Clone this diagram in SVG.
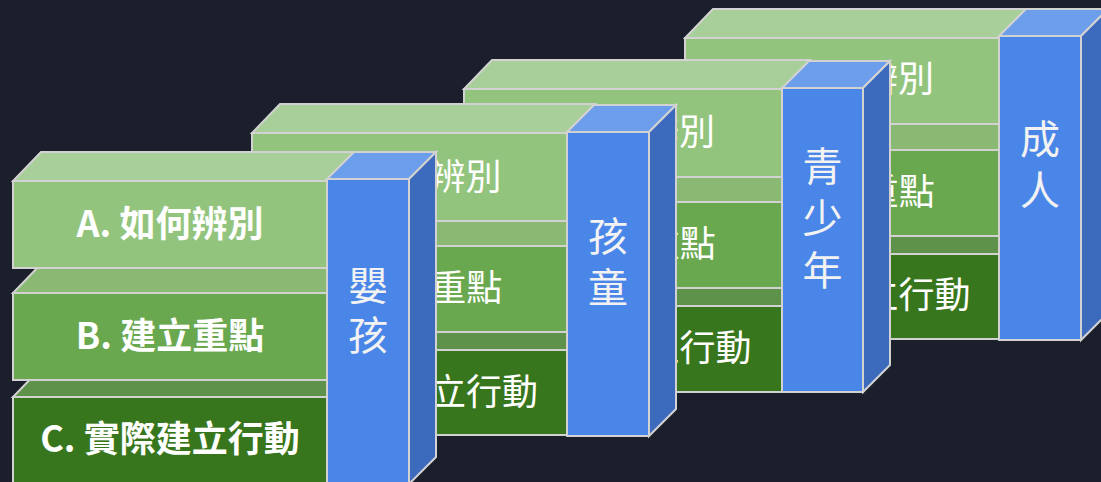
<svg xmlns="http://www.w3.org/2000/svg" width="1101" height="482" viewBox="0 0 1101 482">
  <style>
    .bg { fill: #1b1f2b; }
    .e { stroke: #d2d2d2; stroke-width: 2; stroke-linejoin: miter; }
    .at { fill: #a8cf99; }
    .af { fill: #93c47d; }
    .bt { fill: #89b973; }
    .bf { fill: #6aa84f; }
    .ct { fill: #5e914a; }
    .cf { fill: #38761d; }
    .kf { fill: #4a86e8; }
    .kt { fill: #6d9eeb; }
    .ks { fill: #3c6bbd; }
    .lb { font-family: "Noto Sans CJK TC", "Noto Sans CJK SC", "Noto Sans", sans-serif; font-size: 36px; fill: #ffffff; text-anchor: middle; }
    .lb1 { font-weight: bold; }
    .col { font-family: "Noto Sans CJK TC", "Noto Sans CJK SC", "Noto Sans", sans-serif; font-size: 40px; fill: #f2f2f2; text-anchor: middle; }
  </style>
  <rect class="bg" x="0" y="0" width="1101" height="482"/>

  <!-- Group 4: 成人 (back) -->
  <g id="adult">
    <polygon class="ct e" points="685,254 999,254 1027,225 713,225"/>
    <rect class="cf e" x="685" y="254" width="314" height="85"/>
    <polygon class="bt e" points="685,150 999,150 1027,121 713,121"/>
    <rect class="bf e" x="685" y="150" width="314" height="86"/>
    <polygon class="at e" points="685,38 999,38 1027,9 713,9"/>
    <rect class="af e" x="685" y="38" width="314" height="86"/>
    <text class="lb" x="842" y="92">A. 如何辨別</text>
    <text class="lb" x="842" y="205">B. 建立重點</text>
    <text class="lb" x="842" y="308">C. 實際建立行動</text>
    <polygon class="kt e" points="999,36 1081,36 1108,9 1026,9"/>
    <polygon class="ks e" points="1081,36 1108,9 1108,313 1081,340"/>
    <rect class="kf e" x="999" y="36" width="82" height="304"/>
    <text class="col" x="1040" y="154">成</text>
    <text class="col" x="1040" y="205">人</text>
  </g>

  <!-- Group 3: 青少年 -->
  <g id="teen">
    <polygon class="ct e" points="464,306 782,306 810,277 492,277"/>
    <rect class="cf e" x="464" y="306" width="318" height="86"/>
    <polygon class="bt e" points="464,202 782,202 810,173 492,173"/>
    <rect class="bf e" x="464" y="202" width="318" height="86"/>
    <polygon class="at e" points="464,89 782,89 810,60 492,60"/>
    <rect class="af e" x="464" y="89" width="318" height="88"/>
    <text class="lb" x="623" y="145">A. 如何辨別</text>
    <text class="lb" x="623" y="257">B. 建立重點</text>
    <text class="lb" x="623" y="361">C. 實際建立行動</text>
    <polygon class="kt e" points="782,88 863,88 890,61 809,61"/>
    <polygon class="ks e" points="863,88 890,61 890,365 863,392"/>
    <rect class="kf e" x="782" y="88" width="81" height="304"/>
    <text class="col" x="822.500" y="181">青</text>
    <text class="col" x="822.500" y="233">少</text>
    <text class="col" x="822.500" y="285">年</text>
  </g>

  <!-- Group 2: 孩童 -->
  <g id="child">
    <polygon class="ct e" points="252,350 567,350 595,321 280,321"/>
    <rect class="cf e" x="252" y="350" width="315" height="85"/>
    <polygon class="bt e" points="252,246 567,246 595,217 280,217"/>
    <rect class="bf e" x="252" y="246" width="315" height="86"/>
    <polygon class="at e" points="252,133 567,133 595,104 280,104"/>
    <rect class="af e" x="252" y="133" width="315" height="88"/>
    <text class="lb" x="409.500" y="189.500">A. 如何辨別</text>
    <text class="lb" x="409.500" y="301">B. 建立重點</text>
    <text class="lb" x="409.500" y="404.500">C. 實際建立行動</text>
    <polygon class="kt e" points="567,132 649,132 676,105 594,105"/>
    <polygon class="ks e" points="649,132 676,105 676,409 649,436"/>
    <rect class="kf e" x="567" y="132" width="82" height="304"/>
    <text class="col" x="608" y="251">孩</text>
    <text class="col" x="608" y="302">童</text>
  </g>

  <!-- Group 1: 嬰孩 (front) -->
  <g id="infant">
    <polygon class="ct e" points="13,397 327,397 355,368 41,368"/>
    <rect class="cf e" x="13" y="397" width="314" height="86"/>
    <polygon class="bt e" points="13,293 327,293 355,264 41,264"/>
    <rect class="bf e" x="13" y="293" width="314" height="87"/>
    <polygon class="at e" points="13,181 327,181 355,152 41,152"/>
    <rect class="af e" x="13" y="181" width="314" height="87"/>
    <text class="lb lb1" x="170" y="237">A. 如何辨別</text>
    <text class="lb lb1" x="170" y="348.500">B. 建立重點</text>
    <text class="lb lb1" x="170" y="452">C. 實際建立行動</text>
    <polygon class="kt e" points="327,179 409,179 436,152 354,152"/>
    <polygon class="ks e" points="409,179 436,152 436,457 409,484"/>
    <rect class="kf e" x="327" y="179" width="82" height="305"/>
    <text class="col" x="368" y="300">嬰</text>
    <text class="col" x="368" y="350">孩</text>
  </g>

  <g id="connectors"/>
</svg>
